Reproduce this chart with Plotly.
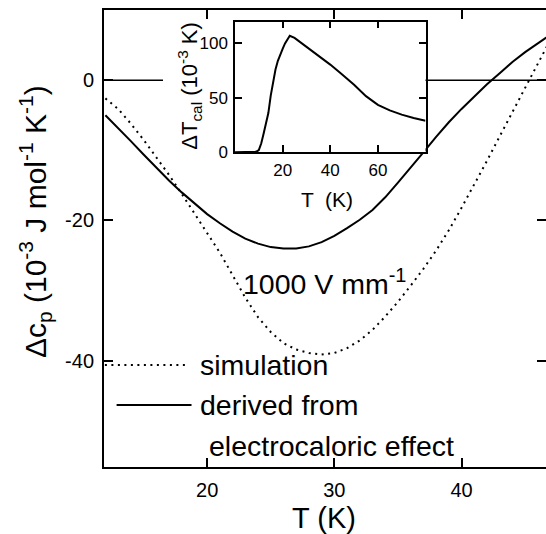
import plotly.graph_objects as go

# ---- main panel data ----
T_main = [12, 13, 14, 15, 16, 17, 18, 19, 20, 21, 22, 23, 24, 25, 26, 27, 28, 29,
          30, 31, 32, 33, 34, 35, 36, 37, 38, 39, 40, 41, 42, 43, 44, 45, 46, 47]
dcp_simulation = [-2.6, -4.1, -6.2, -8.5, -11.0, -13.5, -16.2, -19.0, -21.8, -24.6,
                  -27.8, -31.0, -33.8, -35.9, -37.5, -38.4, -38.9, -39.1, -38.9,
                  -38.2, -37.1, -35.6, -33.7, -31.6, -29.3, -26.9, -24.3, -21.4,
                  -18.2, -14.9, -11.5, -8.0, -4.5, -1.1, 2.4, 5.8]
dcp_derived = [-5.0, -6.8, -8.7, -10.6, -12.5, -14.3, -16.0, -17.6, -19.1, -20.4,
               -21.6, -22.6, -23.3, -23.8, -24.0, -24.0, -23.7, -23.1, -22.2, -21.1,
               -19.9, -18.5, -16.7, -14.6, -12.5, -10.3, -8.1, -6.0, -4.1, -2.3,
               -0.6, 1.0, 2.6, 4.0, 5.3, 6.5]
x_ticks = [20, 30, 40]
y_ticks = [0, -20, -40]
y_ticktext = ["0", "-20", "-40"]

# ---- inset data ----
T_inset = [0, 8, 9, 10, 11, 12, 13, 14, 15, 16, 17, 18, 19, 20, 21, 22, 23, 25,
           30, 35, 40, 45, 50, 55, 60, 65, 70, 75, 80]
dT_cal = [0, 0, 0.5, 2, 8, 17, 26, 36, 52, 66, 76, 84, 90, 95, 100, 104, 107, 105,
          97, 89, 80.5, 71.5, 62, 51.5, 43.5, 38.5, 34.5, 31.5, 29]
inset_x_ticks = [20, 40, 60]
inset_y_ticks = [0, 50, 100]

FONT = "Liberation Sans, Arial, Helvetica, sans-serif"

fig = go.Figure()
fig.add_trace(go.Scatter(x=T_main, y=dcp_simulation, mode="lines",
                         line=dict(color="black", width=2, dash="2px,4.5px"),
                         showlegend=False))
fig.add_trace(go.Scatter(x=T_main, y=dcp_derived, mode="lines",
                         line=dict(color="black", width=2), showlegend=False))
fig.add_trace(go.Scatter(x=T_inset, y=dT_cal, mode="lines",
                         line=dict(color="black", width=2),
                         xaxis="x2", yaxis="y2", showlegend=False))

axis_common = dict(showgrid=False, zeroline=False, showline=True, linecolor="black",
                   ticks="inside", tickcolor="black", mirror="ticks", automargin=False)

fig.update_layout(
    width=546, height=534,
    margin=dict(l=104, r=0, t=10, b=67, autoexpand=False),
    paper_bgcolor="white", plot_bgcolor="white",
    font=dict(family=FONT, color="black"),
    xaxis=dict(range=[11.89, 46.64], tickvals=x_ticks, ticklen=9, tickwidth=1.5,
               linewidth=2, tickfont=dict(size=20), ticklabelstandoff=4,
               **axis_common),
    yaxis=dict(range=[-55.15, 10], tickvals=y_ticks, ticktext=y_ticktext,
               ticklen=9, tickwidth=1.5, linewidth=2, tickfont=dict(size=20),
               ticklabelstandoff=4, **axis_common),
    xaxis2=dict(domain=[0.2964, 0.7274], anchor="y2", range=[0, 80],
                tickvals=inset_x_ticks, ticklen=7, tickwidth=1.5, linewidth=1.5,
                tickfont=dict(size=17), ticklabelstandoff=2, **axis_common),
    yaxis2=dict(domain=[0.6888, 0.9746], anchor="x2", range=[0, 120],
                tickvals=inset_y_ticks, ticklen=7, tickwidth=1.5, linewidth=1.5,
                tickfont=dict(size=17), ticklabelstandoff=2, **axis_common),
)

# zero reference line (interrupted by the inset block)
for x0, x1 in [(0, 0.1335), (0.7274, 1)]:
    fig.add_shape(type="line", xref="paper", yref="y", x0=x0, x1=x1, y0=0, y1=0,
                  line=dict(color="black", width=1.5))

# legend samples
fig.add_shape(type="line", xref="paper", yref="paper", x0=0.002, x1=0.190,
              y0=0.2232, y1=0.2232, line=dict(color="black", width=2, dash="2px,4.5px"))
fig.add_shape(type="line", xref="paper", yref="paper", x0=0.0285, x1=0.198,
              y0=0.1357, y1=0.1357, line=dict(color="black", width=2))

def ann(text, x, y, size, xanchor="center", yanchor="middle", angle=0):
    fig.add_annotation(text=text, x=x, y=y, xref="paper", yref="paper",
                       xanchor=xanchor, yanchor=yanchor, textangle=angle,
                       showarrow=False, font=dict(size=size, family=FONT, color="black"))

ann("simulation", 0.212, 0.2232, 28.5, xanchor="left")
ann("derived from", 0.212, 0.1357, 28.5, xanchor="left")
ann("electrocaloric effect", 0.232, 0.0466, 28.5, xanchor="left")
ann("1000 V mm<sup>-1</sup>", 0.4993, 0.405, 28.5)
ann("T (K)", 0.498, -0.112, 29)
ann("Δc<sub>p</sub> (10<sup>-3</sup> J mol<sup>-1</sup> K<sup>-1</sup>)",
    -0.156, 0.536, 30, angle=-90)
ann("T  (K)", 0.505, 0.585, 21)
ann("ΔT<sub>cal</sub> (10<sup>-3</sup> K)", 0.193, 0.835, 22, angle=-90)

fig.write_html("out.html",
               config={"displayModeBar": False},
               post_script="document.body.style.margin='0px';"
                           "document.body.style.overflow='hidden';")
